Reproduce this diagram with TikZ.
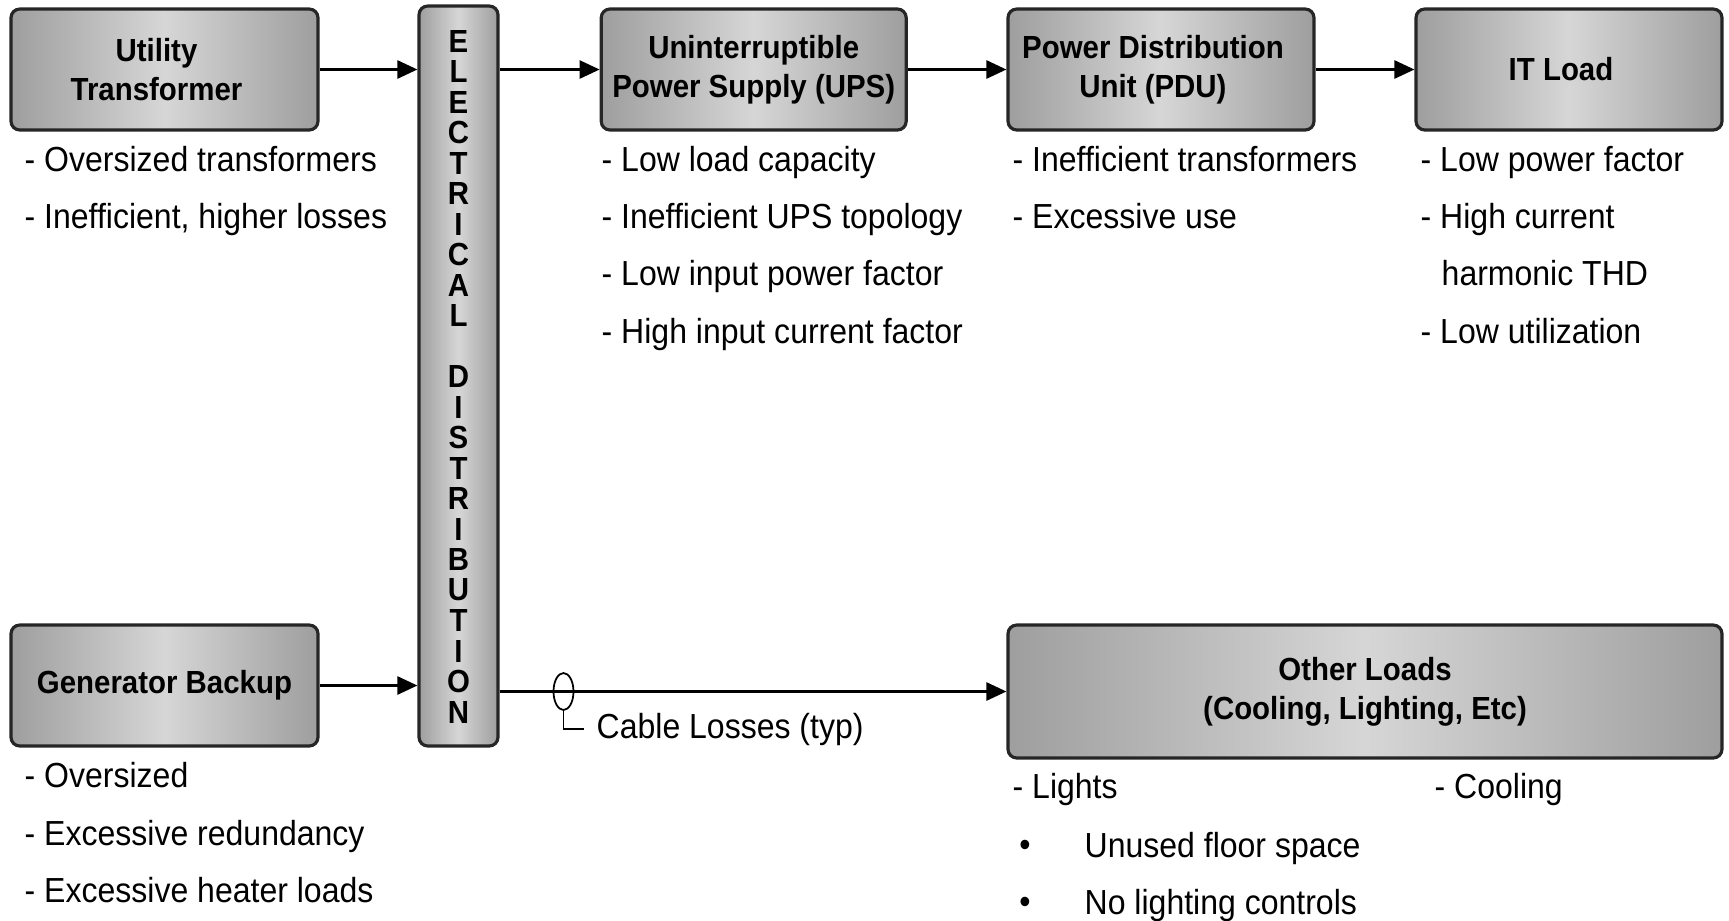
\documentclass[tikz,border=0pt]{standalone}
\usepackage{fontspec}
\setmainfont{Liberation Sans}[FakeStretch=0.92]
\usetikzlibrary{arrows.meta,shapes.geometric}

\begin{document}
\begin{tikzpicture}[
    box/.style={draw=black!85, line width=0.9pt, rounded corners=2.5pt,
        left color=black!38, right color=black!38, middle color=black!16,
        align=center, inner sep=0pt, font=\fontsize{9.1}{11}\selectfont\bfseries},
    letter/.style={inner sep=0pt, font=\fontsize{9.1}{11}\selectfont\bfseries},
    item/.style={anchor=mid west, inner sep=0pt, font=\fontsize{9.9}{12}\selectfont},
    flow/.style={-{Triangle[length=2mm,width=1.8mm]}, line width=0.75pt}
]
    \useasboundingbox (0,0) rectangle (17.29,-9.2);
    % blocks
    \node[box, minimum width=3.07cm, minimum height=1.21cm] (util) at (1.645,-0.695) {Utility\hspace*{1.6mm}\\Transformer\hspace*{1.6mm}};
    \node[box, minimum width=0.79cm, minimum height=7.40cm] (dist) at (4.585,-3.76) {};
    \node[box, minimum width=3.05cm, minimum height=1.21cm] (ups) at (7.537,-0.695) {Uninterruptible\\Power Supply (UPS)};
    \node[box, minimum width=3.06cm, minimum height=1.21cm] (pdu) at (11.61,-0.695) {Power Distribution\hspace*{1.6mm}\\Unit (PDU)\hspace*{1.6mm}};
    \node[box, minimum width=3.06cm, minimum height=1.21cm] (itload) at (15.69,-0.695) {IT Load\hspace*{1.6mm}};
    \node[box, minimum width=3.07cm, minimum height=1.21cm] (gen) at (1.645,-6.855) {Generator Backup};
    \node[box, minimum width=7.14cm, minimum height=1.33cm] (other) at (13.65,-6.915) {Other Loads\\(Cooling, Lighting, Etc)};
    % vertical label
    \foreach \ch [count=\i from 0] in {E,L,E,C,T,R,I,C,A,L}
        \node[letter] (dl-\i) at (4.585,-0.41-0.305*\i) {\ch};
    \foreach \ch [count=\i from 11] in {D,I,S,T,R,I,B,U,T,I,O,N}
        \node[letter] (dl-\i) at (4.585,-0.41-0.305*\i) {\ch};
    % connections
    \draw[flow] (util.east) -- (util.east -| dist.west);
    \draw[flow] (dist.east |- ups.west) -- (ups.west);
    \draw[flow] (ups) -- (pdu);
    \draw[flow] (pdu) -- (itload);
    \draw[flow] (gen.east) -- (gen.east -| dist.west);
    \draw[flow] (dist.east |- other.west) -- (other.west);
    % cable losses
    \node[draw, ellipse, minimum width=0.2cm, minimum height=0.37cm, inner sep=0pt, line width=0.5pt] (cable) at (5.635,-6.915) {};
    \node[item, inner xsep=1.2mm] (cabletxt) at (5.84,-7.29) {Cable Losses (typ)};
    \draw[line width=0.5pt] (cable.south) |- (cabletxt.west);
    % notes
    \node[item] (ut1) at (0.24,-1.62) {- Oversized transformers};
    \node[item] (ut2) at (0.24,-2.19) {- Inefficient, higher losses};
    \node[item] (up1) at (6.01,-1.62) {- Low load capacity};
    \node[item] (up2) at (6.01,-2.19) {- Inefficient UPS topology};
    \node[item] (up3) at (6.01,-2.76) {- Low input power factor};
    \node[item] (up4) at (6.01,-3.34) {- High input current factor};
    \node[item] (pd1) at (10.12,-1.62) {- Inefficient transformers};
    \node[item] (pd2) at (10.12,-2.19) {- Excessive use};
    \node[item] (it1) at (14.20,-1.62) {- Low power factor};
    \node[item] (it2) at (14.20,-2.19) {- High current};
    \node[item] (it3) at (14.41,-2.76) {harmonic THD};
    \node[item] (it4) at (14.20,-3.34) {- Low utilization};
    \node[item] (ge1) at (0.24,-7.78) {- Oversized};
    \node[item] (ge2) at (0.24,-8.36) {- Excessive redundancy};
    \node[item] (ge3) at (0.24,-8.93) {- Excessive heater loads};
    \node[item] (ol1) at (10.12,-7.89) {- Lights};
    \node[item] (ol2) at (14.34,-7.89) {- Cooling};
    \node[item, anchor=center] (ob1) at (10.25,-8.48) {\textbullet};
    \node[item] (ol3) at (10.84,-8.48) {Unused floor space};
    \node[item, anchor=center] (ob2) at (10.25,-9.05) {\textbullet};
    \node[item] (ol4) at (10.84,-9.05) {No lighting controls};
\end{tikzpicture}
\end{document}
